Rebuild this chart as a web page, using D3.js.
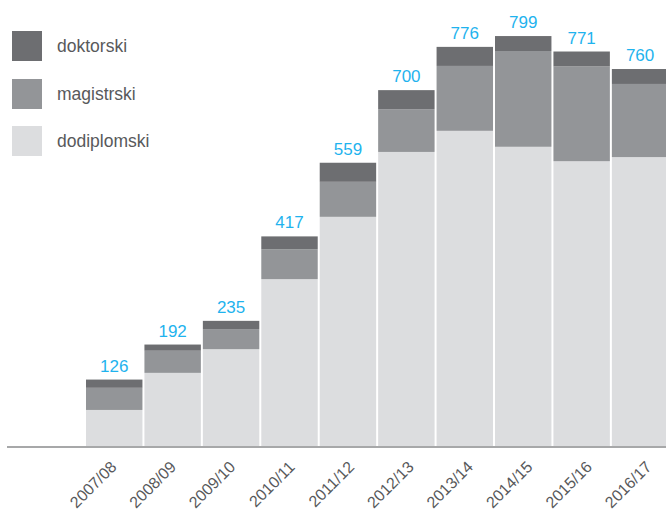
<!DOCTYPE html>
<html>
<head>
<meta charset="utf-8">
<script src="https://cdn.jsdelivr.net/npm/d3@7"></script>
<style>
  body { margin: 0; background: #fff; }
  svg { display: block; font-family: "Liberation Sans", Arial, sans-serif; }
</style>
</head>
<body>
<script>
// data
var years = ["2007/08", "2008/09", "2009/10", "2010/11", "2011/12",
             "2012/13", "2013/14", "2014/15", "2015/16", "2016/17"];
var dodiplomski = [70, 142, 188, 324, 445, 571, 612, 581, 553, 561];
var magistrski  = [43, 43, 39, 58, 68, 83, 126, 186, 184, 142];
var doktorski   = [16, 12, 16, 25, 37, 37, 37, 29, 29, 29];
var totals      = [126, 192, 235, 417, 559, 700, 776, 799, 771, 760];

var seriesNames = ["dodiplomski", "magistrski", "doktorski"];
var colors = {dodiplomski: "#dcdddf", magistrski: "#939598", doktorski: "#6d6e71"};

var w = 666, h = 513;
var base = 446;

var rows = years.map(function(y, i) {
    return {year: y, dodiplomski: dodiplomski[i], magistrski: magistrski[i], doktorski: doktorski[i], total: totals[i]};
});

var svg = d3.select("body").append("svg")
    .attr("width", w)
    .attr("height", h);

var x = d3.scaleBand()
    .domain(years)
    .range([86, 668.3])
    .paddingInner(0.034)
    .paddingOuter(0);

// tick labels sit on a slightly wider spacing than the bars
var xLab = d3.scalePoint()
    .domain(years)
    .range([117, 652]);

var y = d3.scaleLinear()
    .domain([0, 800])
    .range([base, base - 800 * 0.515]);

var stack = d3.stack().keys(seriesNames);
var stacked = stack(rows);

svg.append("g").selectAll("g")
    .data(stacked)
    .enter()
    .append("g")
    .attr("fill", function(d) { return colors[d.key]; })
    .selectAll("rect")
    .data(function(d) { return d; })
    .enter()
    .append("rect")
    .attr("x", function(d) { return x(d.data.year); })
    .attr("y", function(d) { return y(d[1]); })
    .attr("width", x.bandwidth())
    .attr("height", function(d) { return y(d[0]) - y(d[1]); });

// totals above bars
svg.append("g").selectAll("text")
    .data(rows)
    .enter()
    .append("text")
    .attr("x", function(d) { return x(d.year) + x.bandwidth() / 2; })
    .attr("y", function(d) { return y(d.dodiplomski + d.magistrski + d.doktorski) - 8; })
    .attr("text-anchor", "middle")
    .attr("font-size", "17px")
    .attr("fill", "#1fb3ee")
    .text(function(d) { return d.total; });

// axis
var xAxis = d3.axisBottom(xLab).tickSize(0).tickPadding(0);
var gx = svg.append("g")
    .attr("transform", "translate(0," + base + ")")
    .call(xAxis);
gx.select(".domain").remove();
gx.selectAll("text")
    .attr("font-size", "16px")
    .attr("font-family", "Liberation Sans, Arial, sans-serif")
    .attr("fill", "#58595b")
    .attr("text-anchor", "end")
    .attr("dy", 0)
    .attr("y", 0)
    .attr("transform", "translate(0,22) rotate(-45)");

svg.append("line")
    .attr("x1", 7)
    .attr("x2", w)
    .attr("y1", base + 1)
    .attr("y2", base + 1)
    .attr("stroke", "#8a8b8d")
    .attr("stroke-width", 1.5);

// legend
var legendOrder = ["doktorski", "magistrski", "dodiplomski"];
var legendY = [31, 79, 126];
var lg = svg.append("g").selectAll("g")
    .data(legendOrder)
    .enter()
    .append("g")
    .attr("transform", function(d, i) { return "translate(12," + legendY[i] + ")"; });
lg.append("rect")
    .attr("width", 30)
    .attr("height", 30)
    .attr("fill", function(d) { return colors[d]; });
lg.append("text")
    .attr("x", 45)
    .attr("y", 21)
    .attr("font-size", "17.5px")
    .attr("fill", "#58595b")
    .text(function(d) { return d; });
</script>
</body>
</html>
